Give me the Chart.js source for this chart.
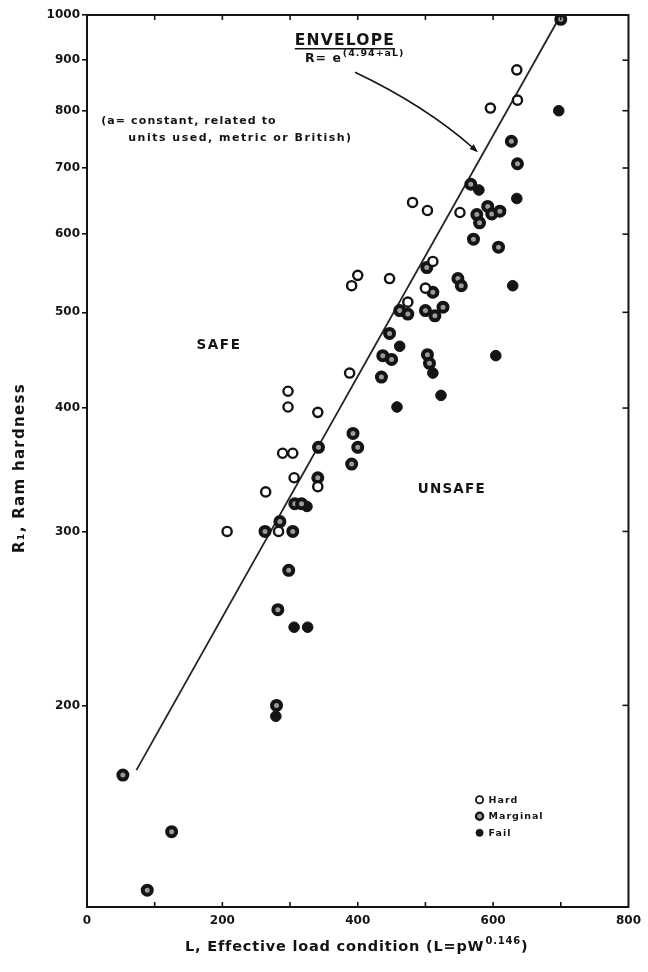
<!DOCTYPE html>
<html>
<head>
<meta charset="utf-8">
<script src="https://cdn.jsdelivr.net/npm/chart.js@4.4.1/dist/chart.umd.min.js"></script>
<style>
  html, body { margin: 0; padding: 0; background: #fff; }
  #wrap { width: 648px; height: 972px; }
</style>
</head>
<body>
<div id="wrap"><canvas id="c" width="648" height="972"></canvas></div>
<script>
// Ram hardness R against effective load condition L, by test outcome.
const hardLoad     = [635, 636, 596, 481, 503, 551, 511, 500, 474, 447, 400, 391, 388, 341, 297, 297, 289, 304, 306, 341, 264, 283, 207];
const hardHardness = [880, 820, 805, 646, 634, 631, 563, 529, 512, 541, 545, 532, 434, 396, 416, 401, 360, 360, 340, 333, 329, 300, 300];

const marginalLoad     = [700, 627, 636, 567, 576, 592, 598, 610, 580, 571, 608, 548, 553, 502, 511, 462, 474, 500, 514, 526, 447, 437, 450, 435, 503, 506, 393, 400, 391, 342, 341, 307, 317, 285, 263, 304, 298, 282, 280, 53, 125, 89];
const marginalHardness = [990, 745, 707, 674, 628, 640, 629, 633, 616, 593, 582, 541, 532, 555, 524, 502, 498, 502, 496, 506, 476, 452, 448, 430, 453, 444, 377, 365, 351, 365, 340, 320, 320, 307, 300, 300, 274, 250, 200, 170, 149, 130];

const failLoad     = [697, 579, 635, 629, 462, 511, 604, 523, 458, 325, 306, 326, 279];
const failHardness = [800, 665, 652, 532, 462, 434, 452, 412, 401, 318, 240, 240, 195];

// Envelope R = e^(4.94 + aL): straight on the log axis, drawn between its two ends.
const envelopeLoad     = [73, 700];
const envelopeHardness = [172, 1000];

const xTickValues = [0, 100, 200, 300, 400, 500, 600, 700, 800];
const yTickValues = [200, 300, 400, 500, 600, 700, 800, 900, 1000];

const INK = '#141414';
const FAMILY = '"DejaVu Sans", sans-serif';

function toPoints(xs, ys) { return xs.map((v, i) => ({ x: v, y: ys[i] })); }

// Notes placed in data units (load, hardness).
const notes = {
  envelope: { L: 381, R: 932 },
  formula:  { L: 322, R: 896 },
  constant1:{ L: 21,  R: 775 },
  constant2:{ L: 61,  R: 745 },
  safe:     { L: 195, R: 459 },
  unsafe:   { L: 539, R: 328 },
  arrowFrom:{ L: 396, R: 875 },
  arrowCtl: { L: 499, R: 810 },
  arrowTo:  { L: 571, R: 733 },
  legend:   { L: 580, R: 160.5 }
};

const decorations = {
  id: 'decorations',
  afterDraw(chart) {
    const { ctx, chartArea: a, scales: { x, y } } = chart;
    const px = L => x.getPixelForValue(L);
    const py = R => y.getPixelForValue(R);
    const seg = (x1, y1, x2, y2) => { ctx.beginPath(); ctx.moveTo(x1, y1); ctx.lineTo(x2, y2); ctx.stroke(); };
    const spacing = s => { if ('letterSpacing' in ctx) ctx.letterSpacing = s; };

    ctx.save();
    // frame
    ctx.strokeStyle = INK;
    ctx.lineWidth = 2;
    ctx.strokeRect(a.left, a.top, a.right - a.left, a.bottom - a.top);

    // inward ticks on bottom, top and right
    ctx.lineWidth = 1.6;
    xTickValues.forEach(v => {
      if (v <= x.min || v >= x.max) return;
      const p = x.getPixelForValue(v);
      seg(p, a.bottom, p, a.bottom - 5);
      seg(p, a.top, p, a.top + 5);
    });
    yTickValues.forEach(v => {
      if (v >= y.max) return;
      const p = y.getPixelForValue(v);
      seg(a.right, p, a.right - 6, p);
    });

    ctx.fillStyle = INK;
    ctx.textBaseline = 'alphabetic';

    // ENVELOPE heading, underlined
    spacing('1.2px');
    ctx.font = 'bold 15.5px ' + FAMILY;
    ctx.textAlign = 'center';
    const ex = px(notes.envelope.L), ey = py(notes.envelope.R);
    ctx.fillText('ENVELOPE', ex, ey);
    const ew = ctx.measureText('ENVELOPE').width;
    ctx.lineWidth = 1.6;
    seg(ex - ew / 2, ey + 3.5, ex + ew / 2, ey + 3.5);

    // formula with superscript exponent
    ctx.textAlign = 'left';
    spacing('1px');
    ctx.font = 'bold 12.5px ' + FAMILY;
    const fx = px(notes.formula.L), fy = py(notes.formula.R);
    ctx.fillText('R= e', fx, fy);
    const fw = ctx.measureText('R= e').width;
    ctx.font = 'bold 9.5px ' + FAMILY;
    ctx.fillText('(4.94+aL)', fx + fw + 1, fy - 6);

    // constant note
    spacing('1.1px');
    ctx.font = 'bold 11px ' + FAMILY;
    ctx.fillText('(a= constant, related to', px(notes.constant1.L), py(notes.constant1.R));
    spacing('1.5px');
    ctx.fillText('units used, metric or British)', px(notes.constant2.L), py(notes.constant2.R));

    // region labels
    ctx.textAlign = 'center';
    spacing('1.6px');
    ctx.font = 'bold 13.5px ' + FAMILY;
    ctx.fillText('SAFE', px(notes.safe.L), py(notes.safe.R));
    spacing('1.2px');
    ctx.fillText('UNSAFE', px(notes.unsafe.L), py(notes.unsafe.R));

    // curved pointer from the formula to the envelope
    const p0 = [px(notes.arrowFrom.L), py(notes.arrowFrom.R)];
    const pc = [px(notes.arrowCtl.L), py(notes.arrowCtl.R)];
    const p1 = [px(notes.arrowTo.L), py(notes.arrowTo.R)];
    ctx.lineWidth = 1.6;
    ctx.beginPath();
    ctx.moveTo(p0[0], p0[1]);
    ctx.quadraticCurveTo(pc[0], pc[1], p1[0], p1[1]);
    ctx.stroke();
    const ang = Math.atan2(p1[1] - pc[1], p1[0] - pc[0]);
    const tip = [p1[0] + 6 * Math.cos(ang), p1[1] + 6 * Math.sin(ang)];
    ctx.beginPath();
    ctx.moveTo(tip[0], tip[1]);
    ctx.lineTo(tip[0] - 9 * Math.cos(ang - 0.35), tip[1] - 9 * Math.sin(ang - 0.35));
    ctx.lineTo(tip[0] - 9 * Math.cos(ang + 0.35), tip[1] - 9 * Math.sin(ang + 0.35));
    ctx.closePath();
    ctx.fill();

    // legend
    const lx = px(notes.legend.L), ly = py(notes.legend.R);
    spacing('1px');
    ctx.font = 'bold 9.5px ' + FAMILY;
    ctx.textAlign = 'left';
    ctx.textBaseline = 'middle';
    chart.data.datasets.filter(d => !d.showLine).forEach((d, i) => {
      const yy = ly + i * 16.5;
      ctx.beginPath();
      ctx.arc(lx, yy, 3.6, 0, Math.PI * 2);
      ctx.fillStyle = d.backgroundColor;
      ctx.fill();
      ctx.lineWidth = Math.min(d.borderWidth, 3) * 0.75;
      ctx.strokeStyle = d.borderColor;
      ctx.stroke();
      ctx.fillStyle = INK;
      ctx.fillText(d.label, lx + 9, yy + 0.5);
    });

    // x axis title with superscript exponent
    ctx.textBaseline = 'alphabetic';
    spacing('0.8px');
    const main = 'L, Effective load condition (L=pW';
    const sup = '0.146';
    const tail = ')';
    ctx.font = 'bold 14.5px ' + FAMILY;
    const w1 = ctx.measureText(main).width;
    const w3 = ctx.measureText(tail).width;
    ctx.font = 'bold 10px ' + FAMILY;
    const w2 = ctx.measureText(sup).width;
    const total = w1 + w2 + 1 + w3;
    const cx = (a.left + a.right) / 2 - 1;
    const by = a.bottom + 44;
    const sx = cx - total / 2;
    ctx.font = 'bold 14.5px ' + FAMILY;
    ctx.fillText(main, sx, by);
    ctx.font = 'bold 10px ' + FAMILY;
    ctx.fillText(sup, sx + w1 + 1, by - 7);
    ctx.font = 'bold 14.5px ' + FAMILY;
    ctx.fillText(tail, sx + w1 + w2 + 1, by);

    // y axis title, rotated
    spacing('1.3px');
    ctx.font = 'bold 15px ' + FAMILY;
    ctx.textAlign = 'center';
    ctx.textBaseline = 'middle';
    ctx.translate(20, (a.top + a.bottom) / 2 + 7);
    ctx.rotate(-Math.PI / 2);
    ctx.fillText('R\u2081, Ram hardness', 0, 0);
    ctx.restore();
  }
};

new Chart(document.getElementById('c'), {
  type: 'scatter',
  data: {
    datasets: [
      {
        label: 'Hard',
        data: toPoints(hardLoad, hardHardness),
        pointRadius: 4.6, pointHoverRadius: 4.6,
        backgroundColor: '#ffffff', borderColor: INK, borderWidth: 2.4,
        order: 1
      },
      {
        label: 'Marginal',
        data: toPoints(marginalLoad, marginalHardness),
        pointRadius: 4.5, pointHoverRadius: 4.5,
        backgroundColor: '#9a9a9a', borderColor: INK, borderWidth: 4,
        order: 1
      },
      {
        label: 'Fail',
        data: toPoints(failLoad, failHardness),
        pointRadius: 5.3, pointHoverRadius: 5.3,
        backgroundColor: INK, borderColor: INK, borderWidth: 1,
        order: 1
      },
      {
        label: 'Envelope',
        data: toPoints(envelopeLoad, envelopeHardness),
        showLine: true, pointRadius: 0,
        borderColor: '#222', borderWidth: 1.8, fill: false,
        order: 5
      }
    ]
  },
  options: {
    responsive: false,
    animation: false,
    devicePixelRatio: 1,
    events: [],
    layout: { padding: { top: 15, right: 19, bottom: 0, left: 0 } },
    plugins: { legend: { display: false }, tooltip: { enabled: false } },
    scales: {
      x: {
        type: 'linear', min: 0, max: 800,
        afterBuildTicks: s => { s.ticks = xTickValues.map(v => ({ value: v })); },
        afterFit: s => { s.height = 65; },
        grid: { display: false, drawTicks: false },
        border: { display: false },
        ticks: {
          autoSkip: false, maxRotation: 0, padding: 7, color: INK,
          font: { family: FAMILY, size: 12, weight: 'bold' },
          callback: v => (v % 200 === 0 ? String(v) : '')
        }
      },
      y: {
        type: 'logarithmic', min: 125, max: 1000,
        afterBuildTicks: s => { s.ticks = yTickValues.map(v => ({ value: v })); },
        afterFit: s => { s.width = 87; },
        grid: { drawOnChartArea: false, drawTicks: true, tickLength: 5, color: INK, lineWidth: 1.6 },
        border: { display: false },
        ticks: {
          autoSkip: false, padding: 2, color: INK,
          font: { family: FAMILY, size: 12, weight: 'bold' },
          callback: v => String(v)
        }
      }
    }
  },
  plugins: [decorations]
});
</script>
</body>
</html>
